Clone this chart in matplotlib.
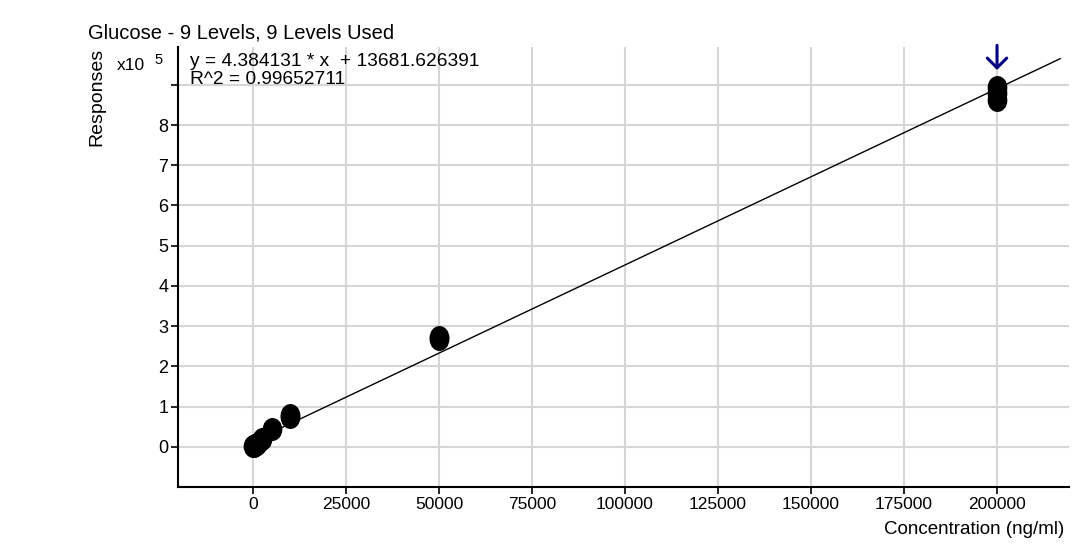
import numpy as np
import matplotlib.pyplot as plt
from matplotlib.path import Path

plt.rcParams['font.family'] = ['Liberation Sans', 'DejaVu Sans']

# calibration data (response in units of 1e5)
conc = [100, 250, 500, 1000, 2500, 5000, 10000, 10000, 50000, 50000,
        200000, 200000, 200000]
resp = [0.03, 0.03, 0.05, 0.08, 0.20, 0.45, 0.75, 0.80, 2.68, 2.72,
        8.95, 8.80, 8.62]

slope = 4.384131
intercept = 13681.626391
r2 = 0.99652711

x_ticks = [0, 25000, 50000, 75000, 100000, 125000, 150000, 175000, 200000]
y_ticks = [0, 1, 2, 3, 4, 5, 6, 7, 8, 9]

fig = plt.figure(figsize=(10.89, 5.44), dpi=100)
ax = fig.add_axes([178 / 1089, 1 - 487 / 544, (1069 - 178) / 1089, (487 - 47) / 544])

ax.set_xlim(-20160, 219350)
ax.set_ylim(-1.0, 9.94)

# fit line
xf = np.array([-1500, 217000])
ax.plot(xf, (slope * xf + intercept) / 1e5, color='black', lw=1.0, zorder=3)

# ellipse marker, a bit taller than wide
circ = Path.unit_circle()
ell = Path(circ.vertices * np.array([0.85, 1.0]), circ.codes)
ax.plot(conc, resp, linestyle='none', marker=ell, markersize=15.5,
        color='black', zorder=4)

# selected level indicator
ax.annotate('', xy=(200000, 9.30), xytext=(200000, 10.05),
            arrowprops=dict(arrowstyle='->,head_length=0.7,head_width=0.7',
                            color='#000080', lw=2.2),
            annotation_clip=False, zorder=5)

ax.set_xticks(x_ticks)
ax.set_xticklabels([str(v) for v in x_ticks], fontsize=12.5)
ax.set_yticks(y_ticks)
ax.set_yticklabels([str(v) for v in y_ticks[:-1]] + [''], fontsize=13)
ax.grid(True, color='#d6d6d6', lw=1.5)
ax.set_axisbelow(True)
ax.tick_params(axis='both', length=5, width=1.2, color='black', pad=2)

for s in ['top', 'right']:
    ax.spines[s].set_visible(False)
for s in ['left', 'bottom']:
    ax.spines[s].set_linewidth(1.5)

fig.text(190 / 1089, 1 - 61 / 544, 'y = %.6f * x  + %.6f' % (slope, intercept),
         fontsize=13.8, va='center', ha='left')
fig.text(190 / 1089, 1 - 80 / 544, 'R^2 = %.8f' % r2,
         fontsize=13.8, va='center', ha='left')

fig.text(88 / 1089, 1 - 33 / 544, 'Glucose - 9 Levels, 9 Levels Used',
         fontsize=14.5, va='center', ha='left')
fig.text(97 / 1089, 1 - 97 / 544, 'Responses', rotation=90,
         fontsize=14, va='center', ha='center')
fig.text(117 / 1089, 1 - 66 / 544, 'x10', fontsize=12.5,
         va='center', ha='left')
fig.text(154 / 1089, 1 - 60 / 544, '5', fontsize=10.5,
         va='center', ha='left')
fig.text(1064 / 1089, 1 - 529 / 544, 'Concentration (ng/ml)',
         fontsize=13.5, va='center', ha='right')

fig.savefig('out.png', dpi=100)
